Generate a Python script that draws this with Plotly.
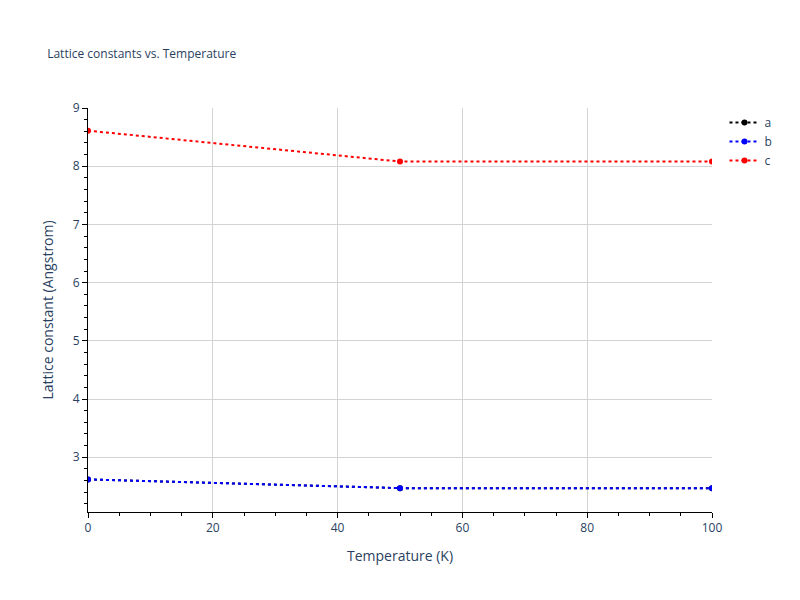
import plotly.graph_objects as go

temperature = [0, 50, 100]
a_values = [2.62, 2.47, 2.47]
b_values = [2.62, 2.47, 2.47]
c_values = [8.61, 8.08, 8.08]

fig = go.Figure()
for name, vals, col in [("a", a_values, "black"), ("b", b_values, "blue"), ("c", c_values, "red")]:
    fig.add_trace(go.Scatter(x=temperature, y=vals, name=name, mode="lines+markers",
                             line=dict(color=col, dash="dot", width=2),
                             marker=dict(color=col, size=6)))

axis = dict(showline=True, linecolor="black", linewidth=1, ticks="outside",
            tickcolor="black", gridcolor="lightgray", zeroline=False)
fig.update_layout(
    title=dict(text="Lattice constants vs. Temperature", font=dict(size=12), x=0.05),
    plot_bgcolor="white", paper_bgcolor="white",
    xaxis=dict(title="Temperature (K)", range=[0, 100],
               minor=dict(ticks="outside", dtick=5, tickcolor="black"), **axis),
    yaxis=dict(title="Lattice constant (Angstrom)", range=[2.06, 9],
               minor=dict(ticks="outside", dtick=0.2, tickcolor="black"), **axis),
    margin=dict(l=80, r=80, t=100, b=80),
)
fig.write_html("out.html")
